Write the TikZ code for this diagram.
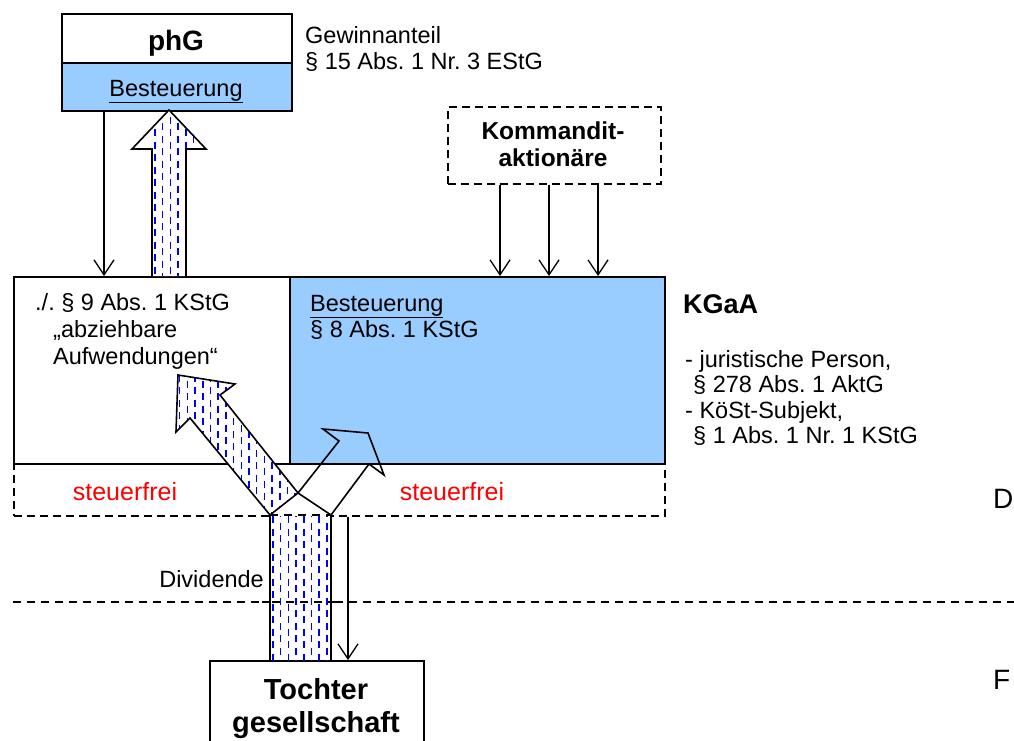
\documentclass[tikz,border=0pt]{standalone}
\usepackage{fontspec}
\setmainfont{Liberation Sans}
\usetikzlibrary{arrows.meta}
\frenchspacing
\definecolor{lblue}{RGB}{153,204,255}
\definecolor{sfred}{RGB}{255,0,0}
\newcommand\dashcols[4]{% xmin, number of columns, ytop, ybottom
  \foreach \k in {0,...,#2}{%
    \pgfmathsetmacro\xx{#1+\k*7.7}%
    \ifodd\k\relax
      \draw[blue, line width=1.5pt, dash pattern=on 7pt off 5.5pt, dash phase=6pt] (\xx,#3) -- (\xx,#4);
    \else
      \draw[blue, line width=1.5pt, dash pattern=on 7pt off 5.5pt] (\xx,#3) -- (\xx,#4);
    \fi
  }}
\tikzset{
  box/.style={draw=black, line width=1.6pt, inner sep=0pt, anchor=north west},
  dbox/.style={draw=black, line width=1.5pt, dash pattern=on 8pt off 5pt, inner sep=0pt, anchor=north west},
  tx/.style={font=\fontsize{23.5}{27}\selectfont, inner sep=0pt, anchor=base west},
  txc/.style={tx, anchor=base},
  bx/.style={font=\fontsize{28}{32}\bfseries\selectfont, inner sep=0pt, anchor=base},
  thinarrow/.style={line width=1.3pt, -{Straight Barb[length=15pt,width=20pt,line width=1.3pt]}},
  outline/.style={line width=1.6pt, line join=miter},
  border/.style={line width=1.5pt, dash pattern=on 8pt off 6pt},
}
\begin{document}
\begin{tikzpicture}[x=1pt,y=-1pt]
\useasboundingbox (0,0) rectangle (1014,740);
\fill[white] (0,0) rectangle (1014,740);

% --- phG box
\node[box, minimum width=230pt, minimum height=49pt] (phgt) at (61,13) {};
\node[box, fill=lblue, minimum width=230pt, minimum height=48pt] (phgb) at (61,62) {};
\node[bx] (phgl) at (176,50) {phG};
\node[txc] (phgs) at (176,96) {\underline{Besteuerung}};
\node[tx] (gw1) at (305,43) {Gewinnanteil};
\node[tx] (gw2) at (305,69) {§ 15 Abs. 1 Nr. 3 EStG};

% --- Kommanditaktionaere
\node[dbox, minimum width=213pt, minimum height=77pt] (kom) at (447,106) {};
\node[bx, font=\fontsize{24.5}{28}\bfseries\selectfont] (kom1) at (553,139) {Kommandit-};
\node[bx, font=\fontsize{24.5}{28}\bfseries\selectfont] (kom2) at (553,166) {aktionäre};

% --- KGaA boxes
\node[box, minimum width=276pt, minimum height=187pt] (kl) at (13,276) {};
\node[box, fill=lblue, minimum width=375pt, minimum height=187pt] (kr) at (289,276) {};
\node[dbox, minimum width=651pt, minimum height=52pt] (sf) at (13,463) {};

\node[tx] (l1) at (35,310) {./. § 9 Abs. 1 KStG};
\node[tx] (l2) at (53,337) {„abziehbare};
\node[tx] (l3) at (53,364) {Aufwendungen“};
\node[tx] (r1) at (310,311) {\underline{Besteuerung}};
\node[tx] (r2) at (310,337) {§ 8 Abs. 1 KStG};

\node[tx, font=\fontsize{27}{31}\bfseries\selectfont] (kgaa) at (683,313) {KGaA};
\node[tx] (k1) at (685,367) {- juristische Person,};
\node[tx] (k2) at (693,392) {§ 278 Abs. 1 AktG};
\node[tx] (k3) at (685,418) {- KöSt-Subjekt,};
\node[tx] (k4) at (693,443) {§ 1 Abs. 1 Nr. 1 KStG};

\node[txc, text=sfred, font=\fontsize{25}{29}\selectfont] (sf1) at (125,500) {steuerfrei};
\node[txc, text=sfred, font=\fontsize{25}{29}\selectfont] (sf2) at (452,500) {steuerfrei};

% --- country border
\draw[border] (13,602) -- (1014,602);
\node[tx, font=\fontsize{28}{32}\selectfont] (dl) at (993,508) {D};
\node[tx, font=\fontsize{28}{32}\selectfont] (fl) at (993,689) {F};

% --- Tochter
\node[box, minimum width=214pt, minimum height=100pt] (toc) at (209,660) {};
\node[bx, font=\fontsize{29}{33}\bfseries\selectfont] (t1) at (316,699) {Tochter};
\node[bx, font=\fontsize{29}{33}\bfseries\selectfont] (t2) at (316,732) {gesellschaft};

% --- coordinates of block arrows
\coordinate (sl) at (270,515);
\coordinate (sr) at (331,515);
\coordinate (xx) at (298,493);
% big arrow (up-left)
\coordinate (b1) at (190,418);
\coordinate (b2) at (176,432);
\coordinate (b3) at (178,375);
\coordinate (b4) at (235,384);
\coordinate (b5) at (220,395);
% white arrow (up-right)
\coordinate (w1) at (339,441);
\coordinate (w2) at (323,429);
\coordinate (w3) at (368,433);
\coordinate (w4) at (384,475);
\coordinate (w5) at (369,464);
% up arrow to phG
\coordinate (u1) at (152,276);
\coordinate (u2) at (152,149);
\coordinate (u3) at (132,149);
\coordinate (u4) at (169,110);
\coordinate (u5) at (206,149);
\coordinate (u6) at (186,149);
\coordinate (u7) at (186,276);

% big arrow
\begin{scope}
  \clip (sl) -- (b1) -- (b2) -- (b3) -- (b4) -- (b5) -- (xx) -- cycle;
  \fill[white] (170,370) rectangle (300,520);
  \dashcols{172}{17}{368}{520}
\end{scope}
\draw[outline] (sl) -- (b1) -- (b2) -- (b3) -- (b4) -- (b5) -- (xx);

% white arrow (outline only)
\draw[outline] (xx) -- (w1) -- (w2) -- (w3) -- (w4) -- (w5) -- (sr);

% vertical dividend shaft
\begin{scope}
  \clip (sl) rectangle (sr |- toc.north);
  \fill[white] (sl) rectangle (sr |- toc.north);
  \dashcols{273}{7}{516}{662}
\end{scope}
\draw[outline] (sl) -- (sl |- toc.north);
\draw[outline] (sr) -- (sr |- toc.north);
\draw[outline] (sl) -- (xx) -- (sr);
\draw[border] (sl) -- (sr);
\draw[border, dash phase=4pt] (262,602) -- (340,602);

% up arrow
\begin{scope}
  \clip (u1) -- (u2) -- (u3) -- (u4) -- (u5) -- (u6) -- (u7) -- cycle;
  \fill[white] (130,105) rectangle (210,280);
  \dashcols{155}{5}{104}{280}
\end{scope}
\draw[outline] (u1) -- (u2) -- (u3) -- (u4) -- (u5) -- (u6) -- (u7);

% thin arrows
\coordinate (p1) at (104,0);
\coordinate (p2) at (500,0);
\coordinate (p3) at (549,0);
\coordinate (p4) at (598,0);
\coordinate (p5) at (348,0);
\draw[thinarrow] (phgb.south -| p1) -- (kl.north -| p1);
\draw[thinarrow] (kom.south -| p2) -- (kr.north -| p2);
\draw[thinarrow] (kom.south -| p3) -- (kr.north -| p3);
\draw[thinarrow] (kom.south -| p4) -- (kr.north -| p4);
\draw[thinarrow] (sf.south -| p5) -- (toc.north -| p5);

\node[tx, anchor=base east] (div) at (264,587) {Dividende};
\end{tikzpicture}
\end{document}
